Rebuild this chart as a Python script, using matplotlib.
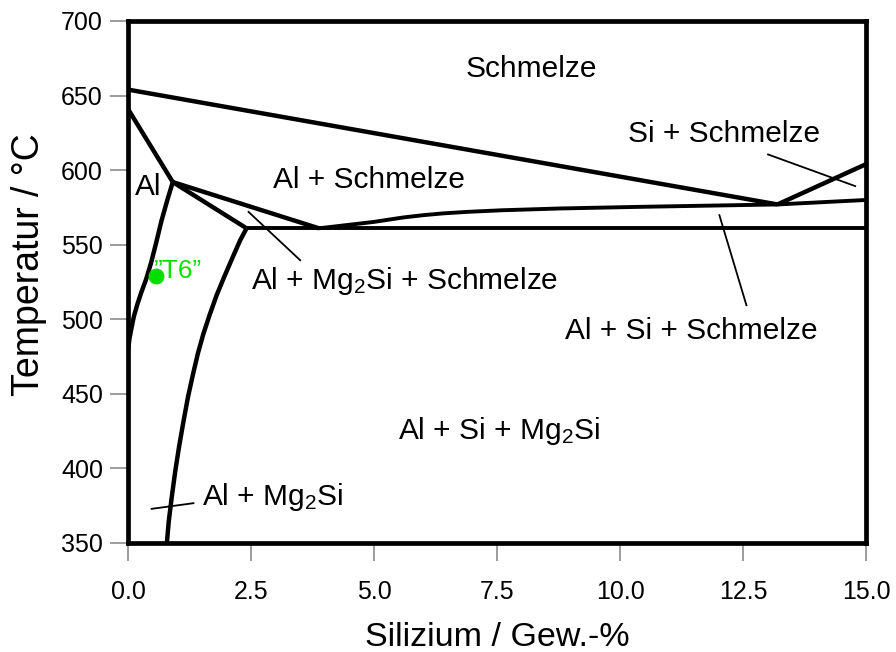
import matplotlib
matplotlib.use("Agg")
import matplotlib.pyplot as plt

plt.rcParams['font.family'] = ['Liberation Sans', 'DejaVu Sans']

# Axis ticks
x_ticks = [0.0, 2.5, 5.0, 7.5, 10.0, 12.5, 15.0]
x_tick_labels = ['0.0', '2.5', '5.0', '7.5', '10.0', '12.5', '15.0']
y_ticks = [350, 400, 450, 500, 550, 600, 650, 700]
y_tick_labels = ['350', '400', '450', '500', '550', '600', '650', '700']

# Phase boundaries (Si in wt.-%, temperature in °C)
liq_al_si = [0.0, 13.2]
liq_al_t = [654, 577]

liq_si_si = [13.2, 15.0]
liq_si_t = [577, 604]

solidus_si = [0.0, 0.91]
solidus_t = [641, 592]

mg2si_valley_a_si = [0.91, 2.41]
mg2si_valley_a_t = [592, 561]

mg2si_valley_b_si = [0.91, 3.88]
mg2si_valley_b_t = [592, 561]

isotherm_si = [2.41, 15.0]
isotherm_t = [561, 561]

trough_si = [3.88, 5.0, 5.6, 6.0, 6.4, 6.88, 7.6, 8.78, 10.41, 13.2, 15.0]
trough_t = [561, 565.3, 568.3, 569.8, 571.0, 572.0, 573.1, 574.3, 575.4, 577, 580]

al_solvus_si = [0.91, 0.80, 0.68, 0.57, 0.47, 0.37, 0.27, 0.19, 0.12, 0.07,
                0.03, 0.0]
al_solvus_t = [592, 580, 566, 551, 538, 527, 518, 510, 502, 494, 487, 479]

mg2si_solvus_si = [2.41, 2.28, 2.12, 1.95, 1.80, 1.66, 1.53, 1.42, 1.32, 1.22,
                   1.13, 1.04, 0.96, 0.89, 0.83, 0.79]
mg2si_solvus_t = [561, 553, 541, 528, 516, 503, 490, 477, 463, 448, 432, 415,
                  398, 381, 365, 350]

# Leader lines from labels to their phase fields
leaders = [
    ([2.45, 3.50], [572.0, 539.6]),   # Al + Mg2Si + Schmelze
    ([0.48, 1.33], [372.9, 376.7]),   # Al + Mg2Si
    ([13.01, 14.78], [610.5, 589.3]), # Si + Schmelze
    ([12.02, 12.57], [569.8, 509.4]), # Al + Si + Schmelze
]

# Heat treatment state
t6_si = [0.57]
t6_t = [529]

fig = plt.figure(figsize=(8.96, 6.52), dpi=100)
ax = fig.add_axes([128 / 896, 109 / 652, 738 / 896, 522 / 652])

thick = 3.2
medium = 2.8
lines = [
    (liq_al_si, liq_al_t, thick),
    (liq_si_si, liq_si_t, thick),
    (solidus_si, solidus_t, thick),
    (mg2si_valley_a_si, mg2si_valley_a_t, thick),
    (mg2si_valley_b_si, mg2si_valley_b_t, thick),
    (isotherm_si, isotherm_t, medium),
    (trough_si, trough_t, medium),
    (al_solvus_si, al_solvus_t, thick),
    (mg2si_solvus_si, mg2si_solvus_t, thick),
]
for xs, ts, lw in lines:
    ax.plot(xs, ts, color='black', lw=lw, solid_capstyle='butt',
            solid_joinstyle='round')

for xs, ts in leaders:
    ax.plot(xs, ts, color='black', lw=1.3)

ax.plot(t6_si, t6_t, 'o', color='#00e000', ms=11.5, mec='none')
ax.text(0.50, 527.5, '\u201dT6\u201d', color='#00e000', fontsize=19,
        ha='left', va='baseline')

fs = 21.5
ax.text(8.20, 662.6, 'Schmelze', fontsize=fs, ha='center', va='baseline')
ax.text(12.11, 619.0, 'Si + Schmelze', fontsize=fs, ha='center', va='baseline')
ax.text(2.95, 587.7, 'Al + Schmelze', fontsize=fs, ha='left', va='baseline')
ax.text(0.14, 583.2, 'Al', fontsize=fs, ha='left', va='baseline')
ax.text(2.51, 520.6, r'Al + Mg$\mathregular{_2}$Si + Schmelze', fontsize=fs,
        ha='left', va='baseline')
ax.text(14.02, 486.6, 'Al + Si + Schmelze', fontsize=fs, ha='right',
        va='baseline')
ax.text(5.49, 419.5, r'Al + Si + Mg$\mathregular{_2}$Si', fontsize=fs,
        ha='left', va='baseline')
ax.text(1.50, 375.8, r'Al + Mg$\mathregular{_2}$Si', fontsize=fs, ha='left',
        va='baseline')

ax.set_xlim(0, 15)
ax.set_ylim(350, 700)
ax.set_xticks(x_ticks)
ax.set_xticklabels(x_tick_labels)
ax.set_yticks(y_ticks)
ax.set_yticklabels(y_tick_labels)
ax.tick_params(direction='out', length=13, width=1.2, color='#8c8c8c',
               labelsize=18)
ax.tick_params(axis='y', pad=5)
ax.tick_params(axis='x', pad=13.5)
for sp in ax.spines.values():
    sp.set_linewidth(3.4)
    sp.set_color('black')

ax.set_xlabel('Silizium / Gew.-%', fontsize=24.5, labelpad=13)
ax.set_ylabel('Temperatur / °C', fontsize=27)
ax.yaxis.set_label_coords(-0.1095, 0.534)

fig.savefig('out.png', dpi=100)
